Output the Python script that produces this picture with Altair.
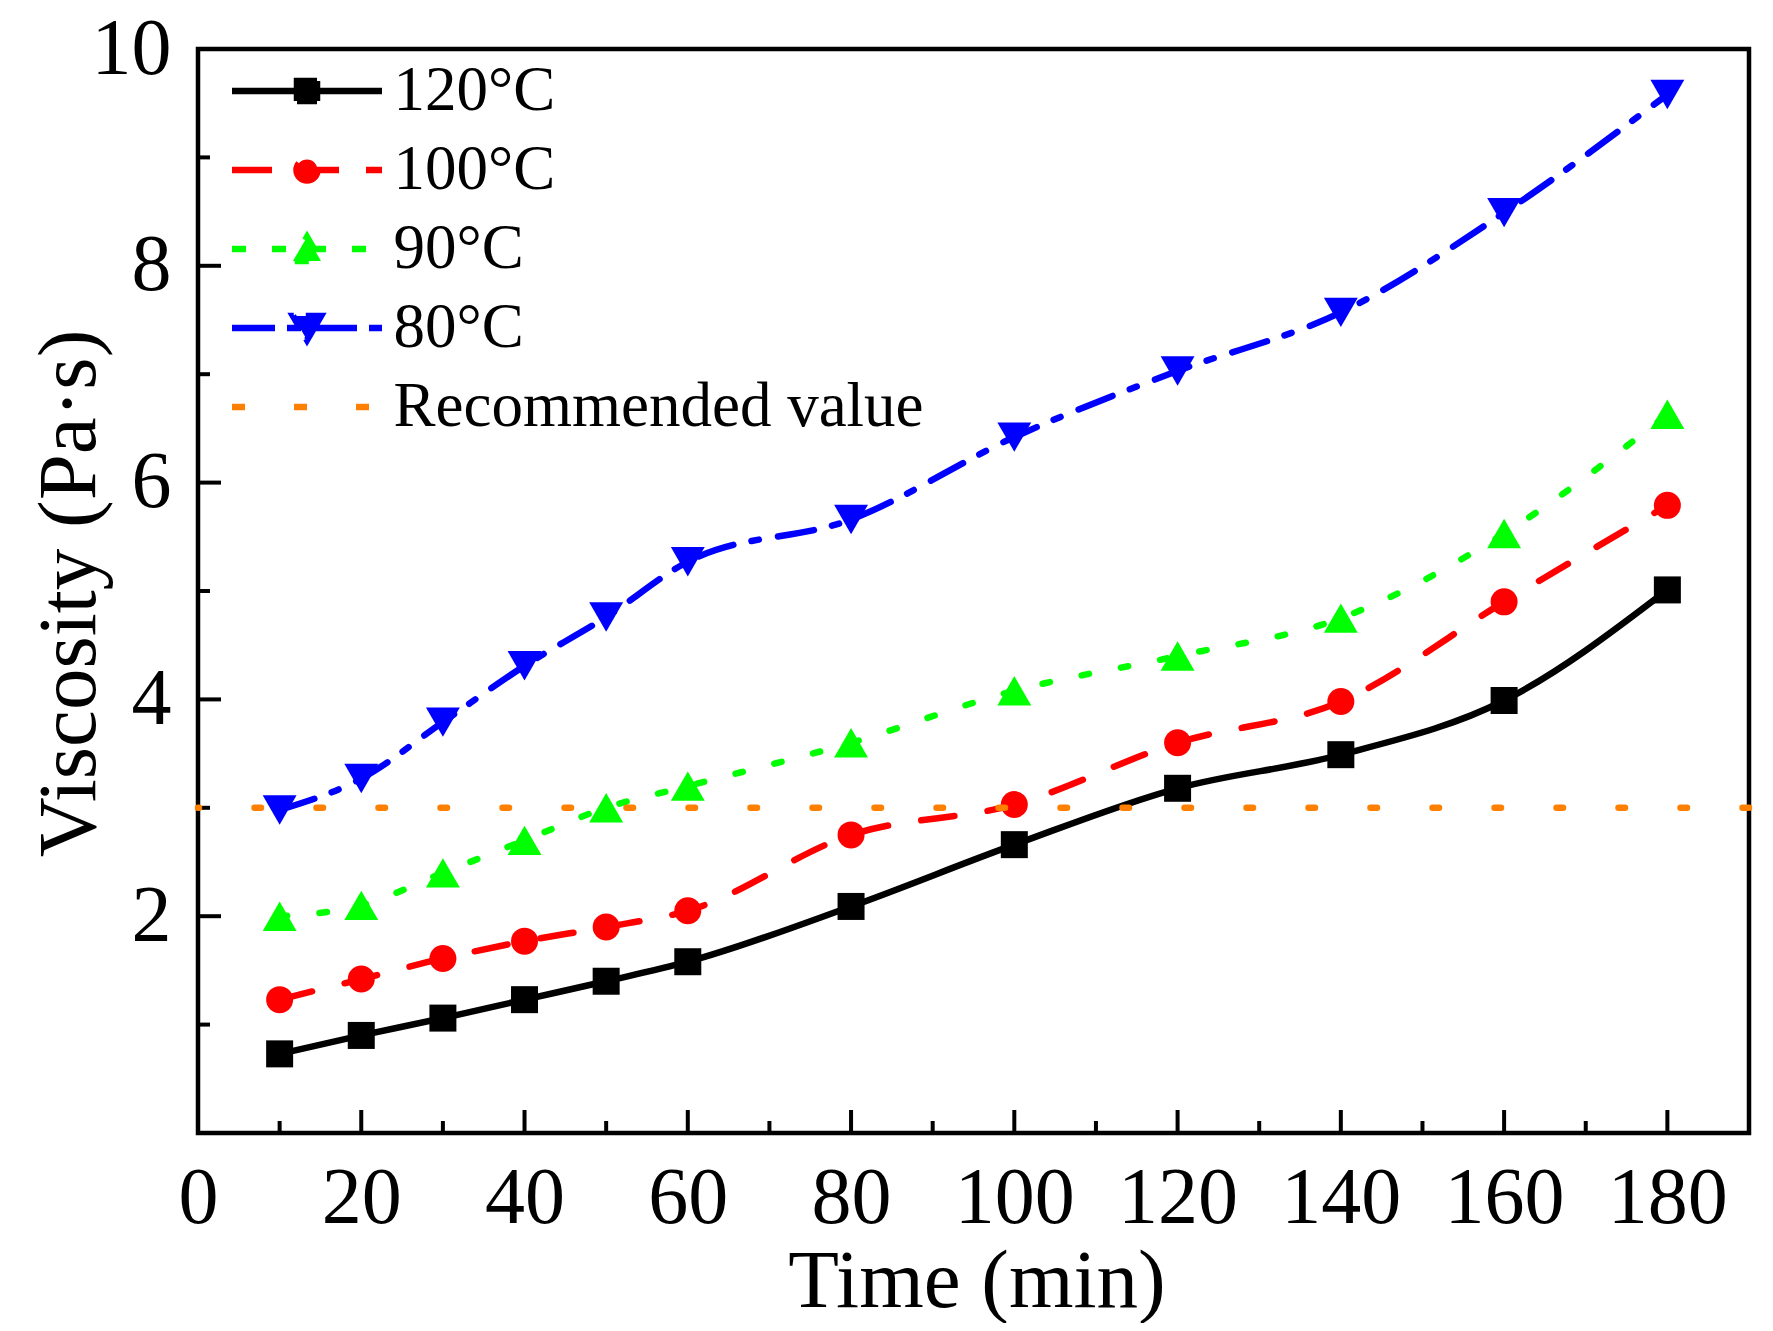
import altair as alt
import pandas as pd

# ---------------- data ----------------
time = [10, 20, 30, 40, 50, 60, 80, 100, 120, 140, 160, 180]
v120 = [0.73, 0.90, 1.06, 1.23, 1.40, 1.58, 2.09, 2.66, 3.18, 3.49, 3.99, 5.01]
v100 = [1.23, 1.42, 1.61, 1.77, 1.90, 2.05, 2.75, 3.03, 3.60, 3.98, 4.90, 5.79]
v90 = [2.00, 2.10, 2.40, 2.70, 3.00, 3.20, 3.60, 4.08, 4.40, 4.75, 5.53, 6.63]
v80 = [2.98, 3.27, 3.79, 4.31, 4.76, 5.27, 5.66, 6.42, 7.03, 7.57, 8.49, 9.58]
recommended = [3.0]
series_names = ["120°C", "100°C", "90°C", "80°C"]
rec_name = "Recommended value"
x_labels = [0, 20, 40, 60, 80, 100, 120, 140, 160, 180]
x_minor = [10, 30, 50, 70, 90, 110, 130, 150, 170]
y_labels = [2, 4, 6, 8, 10]
y_major = [0, 2, 4, 6, 8, 10]
y_minor = [1, 3, 5, 7, 9]

# ---------------- style ----------------
W, H = 1551, 1084
FONT = "Liberation Serif"
LW = 6.5
colors = ["#000000", "#ff0000", "#00ff00", "#0000ff"]
rec_color = "#ff8000"
shapes = ["square", "circle", "triangle-up", "triangle-down"]
sizes = [729, 729, 1150, 1150]
dashes = [None, [33.5, 33.5], [7.5, 32.5], [36.5, 18.5, 7.5, 19.5]]
rec_dash = [6.5, 55.5]
legend_dashes = [[1, 0], [40, 27], [14, 26], [43, 12, 14, 13], [13, 49]]

x_scale = alt.Scale(domain=[0, 190], nice=False, zero=False)
y_scale = alt.Scale(domain=[0, 10], nice=False, zero=False)

# legend symbol paths (units of sqrt(symbolSize)/2 px)
SYM_SIZE = 1600
S = (SYM_SIZE ** 0.5) / 2.0


def u(px):
    return f"{px / S:.4f}"


line_path = f"M{u(-75)},0H{u(75)}"
sq = 10.0
square_path = f"M{u(-sq)},{u(-sq)}H{u(sq)}V{u(sq)}H{u(-sq)}Z"
r = 10.5
k = 0.5523 * r
circle_path = (
    f"M{u(r)},0C{u(r)},{u(k)} {u(k)},{u(r)} 0,{u(r)}"
    f"C{u(-k)},{u(r)} {u(-r)},{u(k)} {u(-r)},0"
    f"C{u(-r)},{u(-k)} {u(-k)},{u(-r)} 0,{u(-r)}"
    f"C{u(k)},{u(-r)} {u(r)},{u(-k)} {u(r)},0Z"
)
tr, th = 14.0, 12.0
tri_up_path = f"M0,{u(-th)}L{u(tr)},{u(th)}L{u(-tr)},{u(th)}Z"
tri_down_path = f"M0,{u(th)}L{u(tr)},{u(-th)}L{u(-tr)},{u(-th)}Z"
legend_paths = [
    line_path + square_path,
    line_path + circle_path,
    line_path + tri_up_path,
    line_path + tri_down_path,
    line_path,
]
legend_domain = series_names + [rec_name]
legend_colors = colors + [rec_color]

# ---------------- axes ----------------
axis_x = alt.Axis(
    values=x_labels, title="Time (min)", ticks=False, domain=False, grid=False,
    labelFont=FONT, labelFontSize=80, labelColor="black", labelPadding=89,
    labelBaseline="alphabetic", labelFlush=False, labelOverlap=False,
    titleFont=FONT, titleFontSize=83, titleFontWeight="normal", titleColor="black",
    titleX=W / 2 + 3, titleY=173, titleBaseline="alphabetic", titleAlign="center",
)
axis_y = alt.Axis(
    values=y_labels, title="Viscosity (Pa·s)", ticks=False, domain=False, grid=False,
    labelFont=FONT, labelFontSize=80, labelColor="black", labelPadding=27,
    labelAlign="right", labelBaseline="middle", labelFlush=False, labelOverlap=False,
    titleFont=FONT, titleFontSize=83, titleFontWeight="normal", titleColor="black",
    titleX=-104, titleY=H / 2 + 2, titleAngle=270, titleBaseline="alphabetic", titleAlign="center",
)


def X(field):
    return alt.X(field, scale=x_scale, axis=axis_x)


def Y(field):
    return alt.Y(field, scale=y_scale, axis=axis_y)


layers = []

# tick rules (drawn inward from the frame)
xt_major = alt.Chart(pd.DataFrame({"t": x_labels})).mark_rule(color="black", strokeWidth=4).encode(
    x=X("t:Q"), y=alt.value(H), y2=alt.value(H - 23),
)
xt_minor = alt.Chart(pd.DataFrame({"t": x_minor})).mark_rule(color="black", strokeWidth=4).encode(
    x=X("t:Q"), y=alt.value(H), y2=alt.value(H - 12),
)
yt_major = alt.Chart(pd.DataFrame({"t": y_major})).mark_rule(color="black", strokeWidth=4).encode(
    y=Y("t:Q"), x=alt.value(0), x2=alt.value(23),
)
yt_minor = alt.Chart(pd.DataFrame({"t": y_minor})).mark_rule(color="black", strokeWidth=4).encode(
    y=Y("t:Q"), x=alt.value(0), x2=alt.value(12),
)
layers += [xt_major, xt_minor, yt_major, yt_minor]

values = [v120, v100, v90, v80]
for i in [3, 2, 1, 0]:
    df = pd.DataFrame({"time": time, "v": values[i]})
    line_kw = dict(color=colors[i], strokeWidth=LW, strokeCap="round", interpolate="monotone")
    if dashes[i] is not None:
        line_kw["strokeDash"] = dashes[i]
    base = alt.Chart(df)
    line = base.mark_line(**line_kw).encode(x=X("time:Q"), y=Y("v:Q"))
    pts = base.mark_point(shape=shapes[i], filled=True, size=sizes[i], color=colors[i],
                          opacity=1, strokeWidth=0).encode(x=X("time:Q"), y=Y("v:Q"))
    layers += [line, pts]

rec = alt.Chart(pd.DataFrame({"v": recommended})).mark_rule(
    color=rec_color, strokeWidth=LW, strokeDash=rec_dash, strokeCap="round"
).encode(y=Y("v:Q"))
layers.append(rec)

# legend-only layer (no marks drawn)
leg = alt.Legend(
    title=None, orient="none", legendX=34, legendY=10.5, padding=0,
    labelFont=FONT, labelFontSize=63, labelColor="black", labelLimit=2000,
    labelOffset=55, symbolOffset=43.5, symbolSize=SYM_SIZE, symbolStrokeWidth=LW,
    rowPadding=15, direction="vertical",
)
legend_layer = alt.Chart(pd.DataFrame({"series": legend_domain})).mark_point(
    filled=True, strokeWidth=LW, opacity=1
).encode(
    shape=alt.Shape("series:N", scale=alt.Scale(domain=legend_domain, range=legend_paths), legend=leg),
    fill=alt.Fill("series:N", scale=alt.Scale(domain=legend_domain, range=legend_colors), legend=leg),
    stroke=alt.Stroke("series:N", scale=alt.Scale(domain=legend_domain, range=legend_colors), legend=leg),
    strokeDash=alt.StrokeDash("series:N", scale=alt.Scale(domain=legend_domain, range=legend_dashes), legend=leg),
).transform_filter("false")
layers.append(legend_layer)

chart = alt.layer(*layers).properties(
    width=W, height=H,
    autosize=alt.AutoSizeParams(type="none"),
    padding={"left": 190, "top": 41, "right": 16, "bottom": 190},
    background="white",
).configure_view(stroke="black", strokeWidth=4.5)

chart.save("out.html", embed_options={"renderer": "svg", "actions": False})
